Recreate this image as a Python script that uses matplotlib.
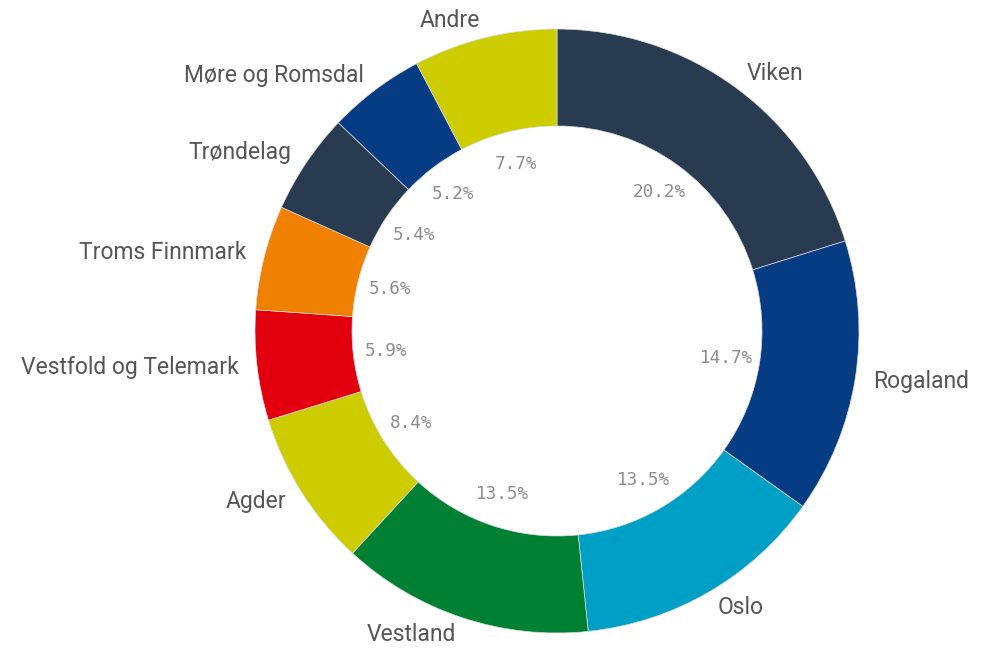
import matplotlib
matplotlib.use("Agg")
import matplotlib.pyplot as plt
import numpy as np

regions = ["Viken", "Rogaland", "Oslo", "Vestland", "Agder",
           "Vestfold og Telemark", "Troms Finnmark", "Trøndelag",
           "Møre og Romsdal", "Andre"]
shares = [20.2, 14.7, 13.5, 13.5, 8.4, 5.9, 5.6, 5.4, 5.2, 7.7]
colors = ["#283b50", "#053c84", "#009fc6", "#008033", "#cccc00",
          "#e2000f", "#ef8000", "#283b50", "#053c84", "#cccc00"]

W, H = 995, 648
fig = plt.figure(figsize=(W / 100, H / 100), dpi=100)
ax = fig.add_axes([0, 0, 1, 1])

cx, cy = 557, H - 331
r_out, r_in = 302, 205

ax.pie(shares, colors=colors, startangle=90, counterclock=False,
       center=(cx, cy), radius=r_out, frame=True,
       wedgeprops=dict(width=r_out - r_in, edgecolor="#dcdcdc", linewidth=0.5))
ax.set_xlim(0, W)
ax.set_ylim(0, H)
ax.set_aspect("equal")
ax.axis("off")

total = sum(shares)
cum = np.cumsum([0] + shares[:-1])
for name, v, c0 in zip(regions, shares, cum):
    ang = np.deg2rad(90 - (c0 + v / 2) / total * 360)
    ca, sa = np.cos(ang), np.sin(ang)
    # region name outside the ring
    lx, ly = cx + 320 * ca, cy + 320 * sa
    ax.text(lx, ly, name, ha="left" if ca >= 0 else "right", va="center",
            fontsize=16.5, color="#555555", family="Roboto")
    # share inside the hole
    px, py = cx + 172 * ca, cy + 172 * sa
    ax.text(px, py, f"{v:.1f}%", ha="center", va="center",
            fontsize=12.7, color="#8c8c8c", family="DejaVu Sans Mono")

fig.savefig("out.png", dpi=100, facecolor="white")
